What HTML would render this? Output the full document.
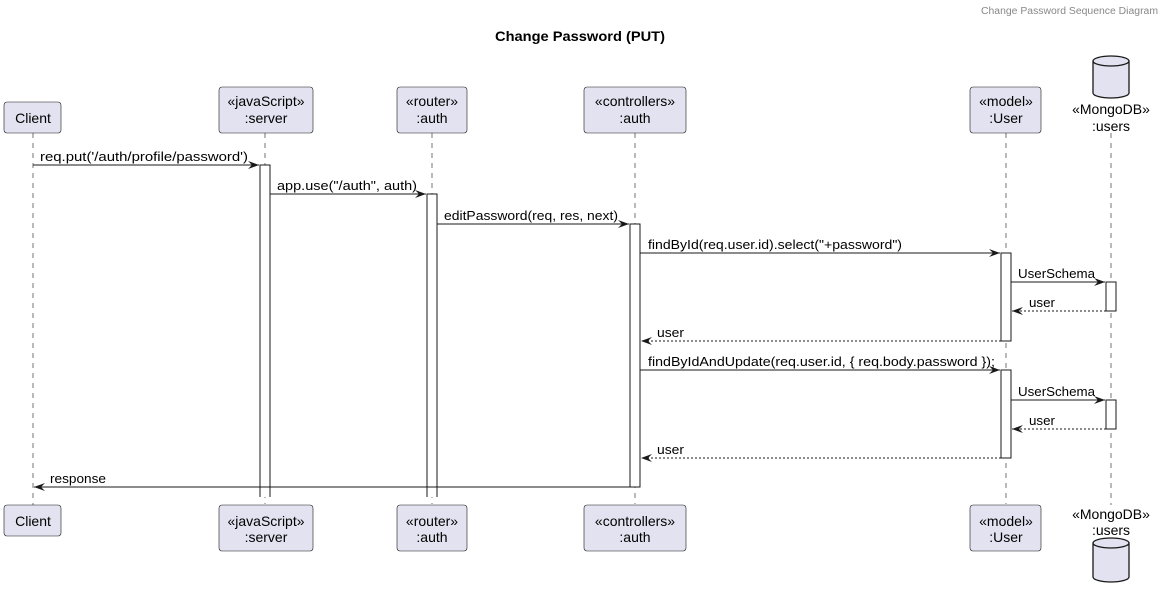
<!DOCTYPE html>
<html><head><meta charset="utf-8"><style>
html,body{margin:0;padding:0;background:#fff;}
svg{display:block;font-family:"Liberation Sans","DejaVu Sans",sans-serif;}
</style></head><body>
<svg width="1165" height="599" viewBox="0 0 1165 599" xmlns="http://www.w3.org/2000/svg">
<defs>
<marker id="a" markerWidth="12" markerHeight="10" refX="11" refY="5" orient="auto" markerUnits="userSpaceOnUse">
<path d="M0,1 L11,5 L0,9 L4,5 Z" fill="#181818"/>
</marker>
</defs>
<text x="1158" y="14" font-size="10" fill="#888" text-anchor="end" textLength="177" lengthAdjust="spacingAndGlyphs">Change Password Sequence Diagram</text>
<text x="495" y="41" font-size="14" font-weight="bold" fill="#000" textLength="170" lengthAdjust="spacingAndGlyphs">Change Password (PUT)</text>

<g stroke="#181818" stroke-width="0.6" stroke-dasharray="5,5">
<line x1="33" y1="133" x2="33" y2="505"/>
<line x1="265" y1="133" x2="265" y2="504"/>
<line x1="432" y1="133" x2="432" y2="504"/>
<line x1="635" y1="133" x2="635" y2="504"/>
<line x1="1006" y1="133" x2="1006" y2="504"/>
<line x1="1111" y1="133" x2="1111" y2="505"/>
</g>

<g fill="#E2E2F0" stroke="#181818" stroke-width="0.6">
<rect x="4" y="102" width="57" height="31" rx="3"/>
<rect x="219" y="87" width="94" height="46" rx="3"/>
<rect x="397" y="87" width="70" height="46" rx="3"/>
<rect x="584" y="87" width="102" height="46" rx="3"/>
<rect x="970" y="87" width="71" height="46" rx="3"/>
<rect x="4" y="505" width="57" height="31" rx="3"/>
<rect x="219" y="505" width="94" height="46" rx="3"/>
<rect x="397" y="505" width="70" height="46" rx="3"/>
<rect x="584" y="505" width="102" height="46" rx="3"/>
<rect x="970" y="505" width="71" height="46" rx="3"/>
</g>
<g fill="#E2E2F0" stroke="#181818" stroke-width="1.3">
<path d="M1093,61 v32 a18,5 0 0 0 36,0 v-32 a18,5 0 0 0 -36,0 a18,5 0 0 0 36,0"/>
<path d="M1093,543 v34 a18,5 0 0 0 36,0 v-34 a18,5 0 0 0 -36,0 a18,5 0 0 0 36,0"/>
</g>

<g font-size="14" fill="#000" text-anchor="middle">
<text x="33" y="123">Client</text>
<text x="266" y="106">«javaScript»</text><text x="266" y="123">:server</text>
<text x="432" y="106">«router»</text><text x="432" y="123">:auth</text>
<text x="635" y="106">«controllers»</text><text x="635" y="123">:auth</text>
<text x="1006" y="106">«model»</text><text x="1006" y="123">:User</text>
<text x="1111" y="114">«MongoDB»</text><text x="1111" y="131">:users</text>
<text x="33" y="526">Client</text>
<text x="266" y="526">«javaScript»</text><text x="266" y="542">:server</text>
<text x="432" y="526">«router»</text><text x="432" y="542">:auth</text>
<text x="635" y="526">«controllers»</text><text x="635" y="542">:auth</text>
<text x="1006" y="526">«model»</text><text x="1006" y="542">:User</text>
<text x="1111" y="519">«MongoDB»</text><text x="1111" y="535">:users</text>
</g>

<g fill="#fff" stroke="#181818" stroke-width="1">
<path d="M260,497 V165 H270 V497"/>
<path d="M427,497 V194 H437 V497"/>
<rect x="630" y="224" width="10" height="263"/>
<rect x="1001" y="253" width="10" height="88"/>
<rect x="1106" y="282" width="10" height="29"/>
<rect x="1001" y="370" width="10" height="88"/>
<rect x="1106" y="400" width="10" height="29"/>
</g>

<g stroke="#181818" stroke-width="1" fill="none">
<line x1="33" y1="165" x2="259" y2="165" marker-end="url(#a)"/>
<line x1="270" y1="194" x2="426" y2="194" marker-end="url(#a)"/>
<line x1="437" y1="224" x2="629" y2="224" marker-end="url(#a)"/>
<line x1="640" y1="253" x2="1000" y2="253" marker-end="url(#a)"/>
<line x1="1011" y1="282" x2="1105" y2="282" marker-end="url(#a)"/>
<line x1="1106" y1="311" x2="1012" y2="311" stroke-dasharray="2,2" marker-end="url(#a)"/>
<line x1="1001" y1="341" x2="641" y2="341" stroke-dasharray="2,2" marker-end="url(#a)"/>
<line x1="640" y1="370" x2="1000" y2="370" marker-end="url(#a)"/>
<line x1="1011" y1="400" x2="1105" y2="400" marker-end="url(#a)"/>
<line x1="1106" y1="429" x2="1012" y2="429" stroke-dasharray="2,2" marker-end="url(#a)"/>
<line x1="1001" y1="458" x2="641" y2="458" stroke-dasharray="2,2" marker-end="url(#a)"/>
<line x1="630" y1="487" x2="34" y2="487" marker-end="url(#a)"/>
</g>

<g font-size="13" fill="#000" lengthAdjust="spacingAndGlyphs">
<text x="40" y="161" textLength="208" lengthAdjust="spacingAndGlyphs">req.put('/auth/profile/password')</text>
<text x="277" y="190" textLength="140" lengthAdjust="spacingAndGlyphs">app.use("/auth", auth)</text>
<text x="444" y="220" textLength="174" lengthAdjust="spacingAndGlyphs">editPassword(req, res, next)</text>
<text x="648" y="249" textLength="254" lengthAdjust="spacingAndGlyphs">findById(req.user.id).select("+password")</text>
<text x="1018" y="278" textLength="77" lengthAdjust="spacingAndGlyphs">UserSchema</text>
<text x="1029" y="307" textLength="26" lengthAdjust="spacingAndGlyphs">user</text>
<text x="657" y="337" textLength="27" lengthAdjust="spacingAndGlyphs">user</text>
<text x="648" y="366" textLength="347" lengthAdjust="spacingAndGlyphs">findByIdAndUpdate(req.user.id, { req.body.password });</text>
<text x="1018" y="396" textLength="77" lengthAdjust="spacingAndGlyphs">UserSchema</text>
<text x="1029" y="425" textLength="26" lengthAdjust="spacingAndGlyphs">user</text>
<text x="657" y="454" textLength="27" lengthAdjust="spacingAndGlyphs">user</text>
<text x="50" y="483" textLength="56" lengthAdjust="spacingAndGlyphs">response</text>
</g>
</svg>
</body></html>
